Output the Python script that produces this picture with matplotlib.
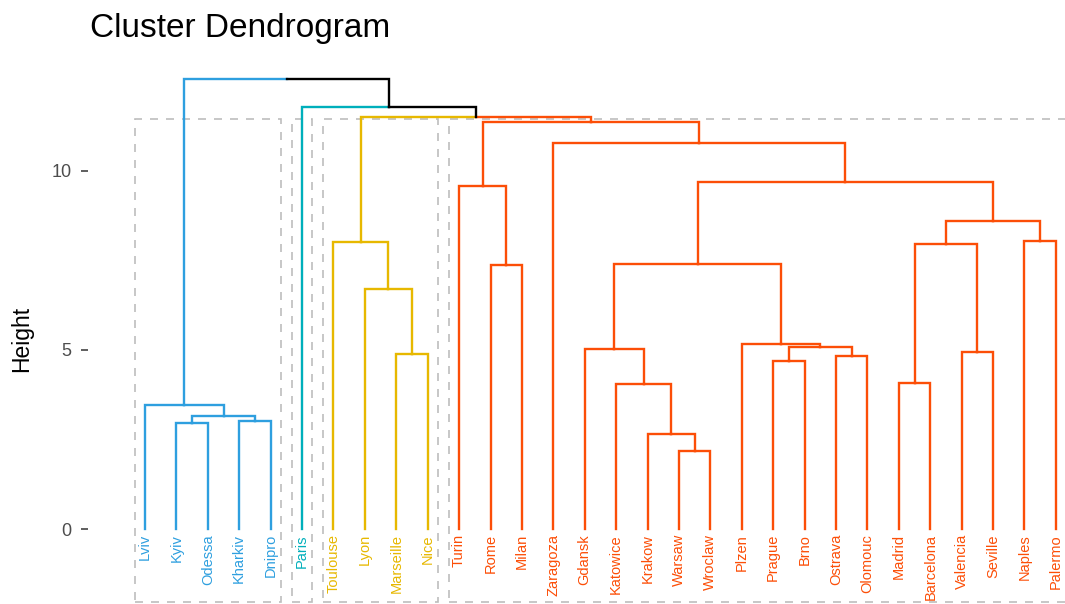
import matplotlib
matplotlib.use("Agg")
import matplotlib.pyplot as plt
from matplotlib.patches import Rectangle

# leaf order as shown left to right
labels = ["Lviv", "Kyiv", "Odessa", "Kharkiv", "Dnipro", "Paris",
          "Toulouse", "Lyon", "Marseille", "Nice",
          "Turin", "Rome", "Milan", "Zaragoza", "Gdansk", "Katowice",
          "Krakow", "Warsaw", "Wroclaw", "Plzen", "Prague", "Brno",
          "Ostrava", "Olomouc", "Madrid", "Barcelona", "Valencia",
          "Seville", "Naples", "Palermo"]

# cluster sizes in leaf order and their colours
cluster_sizes = [5, 1, 4, 20]
cluster_colors = ["#2E9FDF", "#00AFBB", "#E7B800", "#FC4E07"]

# merges: (left, right, height); ints refer to earlier merges
merges = [
    ("Kyiv", "Odessa", 2.96),        # 0
    ("Kharkiv", "Dnipro", 3.01),     # 1
    (0, 1, 3.15),                    # 2
    ("Lviv", 2, 3.46),               # 3
    ("Marseille", "Nice", 4.88),     # 4
    ("Lyon", 4, 6.69),               # 5
    ("Toulouse", 5, 8.01),           # 6
    ("Rome", "Milan", 7.37),         # 7
    ("Turin", 7, 9.57),              # 8
    ("Warsaw", "Wroclaw", 2.18),     # 9
    ("Krakow", 9, 2.65),             # 10
    ("Katowice", 10, 4.05),          # 11
    ("Gdansk", 11, 5.02),            # 12
    ("Prague", "Brno", 4.69),        # 13
    ("Ostrava", "Olomouc", 4.83),    # 14
    (13, 14, 5.08),                  # 15
    ("Plzen", 15, 5.16),             # 16
    (12, 16, 7.40),                  # 17
    ("Madrid", "Barcelona", 4.07),   # 18
    ("Valencia", "Seville", 4.94),   # 19
    (18, 19, 7.95),                  # 20
    ("Naples", "Palermo", 8.04),     # 21
    (20, 21, 8.60),                  # 22
    (17, 22, 9.68),                  # 23
    ("Zaragoza", 23, 10.77),         # 24
    (8, 24, 11.35),                  # 25
    (6, 25, 11.51),                  # 26
    ("Paris", 26, 11.77),            # 27
    (3, 27, 12.56),                  # 28
]

rect_top = 11.44
rect_bottom = -2.04

plt.rcParams['font.family'] = ['Liberation Sans', 'DejaVu Sans']

# leaf positions / colours
leaf_x = {name: i + 1 for i, name in enumerate(labels)}
leaf_color = {}
starts = []
pos = 0
for size, col in zip(cluster_sizes, cluster_colors):
    starts.append(pos)
    for name in labels[pos:pos + size]:
        leaf_color[name] = col
    pos += size

node_x, node_h, node_c = {}, {}, {}


def info(ref):
    if isinstance(ref, str):
        return leaf_x[ref], 0.0, leaf_color[ref]
    return node_x[ref], node_h[ref], node_c[ref]


fig = plt.figure(figsize=(10.65, 6.04), dpi=100)
ax = fig.add_axes([88 / 1065, 0, 977 / 1065, 544 / 604])

for i, (a, b, h) in enumerate(merges):
    xa, ha, ca = info(a)
    xb, hb, cb = info(b)
    xm = (xa + xb) / 2
    node_x[i], node_h[i] = xm, h
    node_c[i] = ca if ca == cb else "black"
    for xc, hc, cc in ((xa, ha, ca), (xb, hb, cb)):
        ax.plot([xc, xc, xm], [hc, h, h], color=cc, lw=1.7,
                solid_joinstyle='miter', zorder=3)

# leaf labels
for name in labels:
    ax.text(leaf_x[name], -0.14, name, rotation=90, ha='center', va='top',
            fontsize=10.5, color=leaf_color[name])

# dashed boxes round the clusters
for st, size in zip(starts, cluster_sizes):
    x0 = st + 1 - 0.33
    x1 = st + size + 0.33
    ax.add_patch(Rectangle((x0, rect_bottom), x1 - x0, rect_top - rect_bottom,
                           fill=False, ec="#BEBEBE", lw=1.2,
                           ls=(0, (4.8, 4.8)), zorder=1))

ax.set_xlim(-0.815, 30.29)
ax.set_ylim(-2.093, 13.09)
ax.set_xticks([])
ax.set_yticks([0, 5, 10])
ax.tick_params(axis='y', length=5, width=1.1, color='#333333', pad=7,
               labelsize=13, labelcolor='#4D4D4D')
for s in ax.spines.values():
    s.set_visible(False)

fig.text(22 / 1065, 1 - 339 / 604, "Height", rotation=90, ha='center',
         va='center', fontsize=16.5)
fig.text(90 / 1065, 1 - 37 / 604, "Cluster Dendrogram", ha='left',
         va='baseline', fontsize=24)

fig.savefig("out.png", dpi=100)
